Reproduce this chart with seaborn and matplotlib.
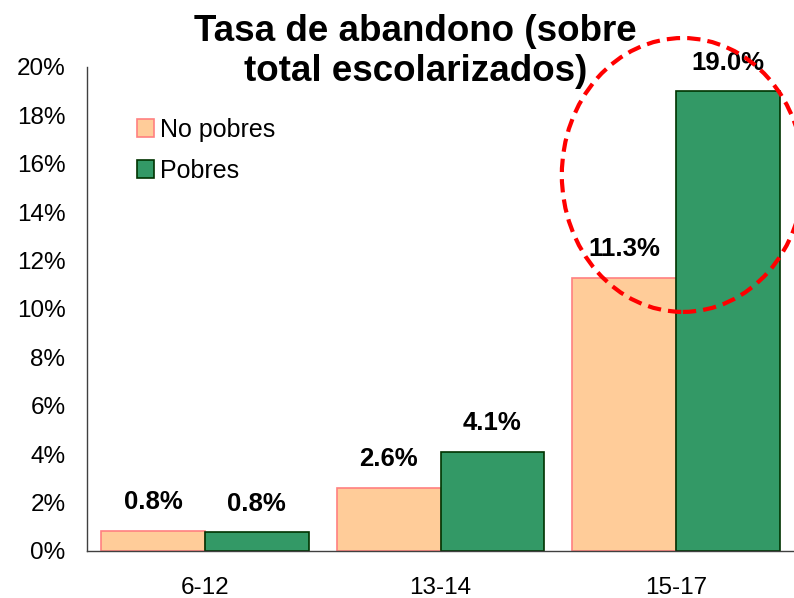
import pandas as pd
import matplotlib
matplotlib.use("Agg")
import matplotlib.pyplot as plt
from matplotlib.patches import Ellipse
import seaborn as sns

# values
grupos = ["6-12", "13-14", "15-17"]
series = ["No pobres", "Pobres"]
no_pobres = [0.84, 2.6, 11.3]
pobres = [0.77, 4.1, 19.0]
etiquetas_np = ["0.8%", "2.6%", "11.3%"]
etiquetas_p = ["0.8%", "4.1%", "19.0%"]
yticks = list(range(0, 21, 2))

df = pd.DataFrame({
    "edad": grupos * 2,
    "tasa": no_pobres + pobres,
    "grupo": [series[0]] * len(grupos) + [series[1]] * len(grupos),
})

sns.set_theme(style="white")
plt.rcParams["font.family"] = ["Liberation Sans", "DejaVu Sans"]
plt.rcParams["text.color"] = "black"
plt.rcParams["xtick.color"] = "black"
plt.rcParams["ytick.color"] = "black"

fills = ["#FFCC99", "#339966"]
edges = ["#FF8080", "#003300"]

fig = plt.figure(figsize=(7.94, 5.98), dpi=100)
ax = fig.add_axes([0.1096, 0.0786, 0.8904, 0.8094])

sns.barplot(data=df, x="edad", y="tasa", hue="grupo", order=grupos,
            hue_order=series, palette=fills, width=0.88, saturation=1,
            errorbar=None, legend=False, ax=ax)

for cont, ec in zip(ax.containers, edges):
    for b in cont:
        b.set_edgecolor(ec)
        b.set_linewidth(1.2)

ax.bar_label(ax.containers[0], labels=etiquetas_np, padding=12,
             fontsize=18.5, fontweight="bold")
ax.bar_label(ax.containers[1], labels=etiquetas_p, padding=12,
             fontsize=18.5, fontweight="bold")

# axes / ticks
ax.set_xlim(-0.5, 2.5)
ax.set_ylim(0, 20)
ax.set_yticks(yticks)
ax.set_yticklabels([f"{v}%" for v in yticks])
ax.set_xticks([-0.5, 0.5, 1.5, 2.5], minor=True)
ax.tick_params(axis="x", which="major", length=0, pad=19, labelsize=17.5)
ax.tick_params(axis="x", which="minor", length=6.5, width=1, direction="out",
               color="#404040")
ax.tick_params(axis="y", length=6.5, width=1, direction="out", pad=9,
               labelsize=17.5, color="#404040")
ax.set_xlabel("")
ax.set_ylabel("")
sns.despine(ax=ax)
for s in ["left", "bottom"]:
    ax.spines[s].set_color("#404040")
    ax.spines[s].set_linewidth(1)

ax.legend(ax.containers, series, loc="upper left",
          bbox_to_anchor=(0.0706, 0.895), frameon=False, fontsize=18,
          handlelength=0.68, handleheight=0.68, handletextpad=0.25,
          labelspacing=0.68, borderpad=0, borderaxespad=0)

fig.text(0.523, 1 - 14 / 598, "Tasa de abandono (sobre\ntotal escolarizados)",
         ha="center", va="top", fontsize=26.5, fontweight="bold",
         linespacing=1.2)

# red dashed highlight circle
fig.add_artist(Ellipse((0.860, 0.7074), 0.3048, 0.458,
                       transform=fig.transFigure, fill=False,
                       edgecolor="#FF0000", lw=3,
                       linestyle=(0, (3.2, 1.7)), zorder=10))

fig.savefig("out.png", dpi=100)
